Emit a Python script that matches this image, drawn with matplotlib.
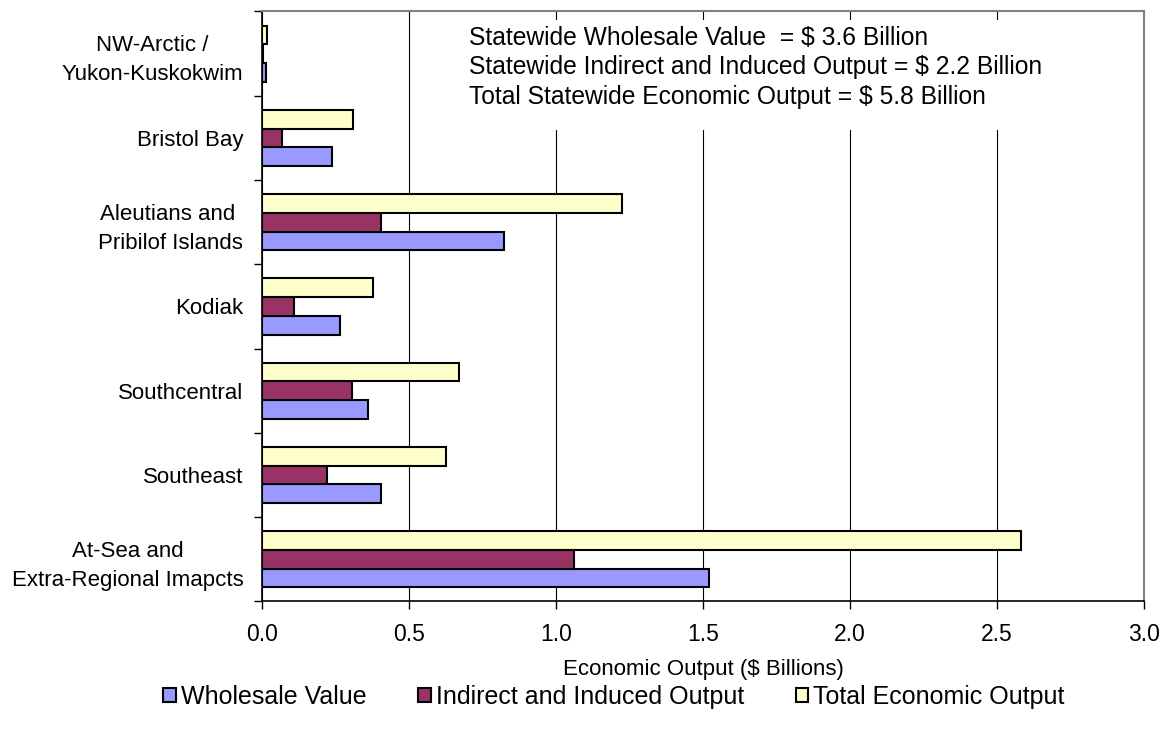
import numpy as np
import matplotlib
matplotlib.use("Agg")
import matplotlib.pyplot as plt
from matplotlib.ticker import FixedLocator

plt.rcParams['font.family'] = ['Liberation Sans', 'DejaVu Sans']

regions = ["NW-Arctic /\nYukon-Kuskokwim", "Bristol Bay", "Aleutians and \nPribilof Islands",
           "Kodiak", "Southcentral", "Southeast", "At-Sea and\nExtra-Regional Imapcts"]
wholesale = [0.013, 0.238, 0.823, 0.265, 0.361, 0.405, 1.520]
indirect = [0.004, 0.068, 0.405, 0.109, 0.306, 0.221, 1.061]
total = [0.017, 0.310, 1.224, 0.378, 0.670, 0.626, 2.582]

series_names = ["Wholesale Value", "Indirect and Induced Output", "Total Economic Output"]
colors = ["#9999FF", "#993366", "#FFFFCC"]

summary = ("Statewide Wholesale Value  = \\$ 3.6 Billion\n"
           "Statewide Indirect and Induced Output = \\$ 2.2 Billion\n"
           "Total Statewide Economic Output = \\$ 5.8 Billion")

fig = plt.figure(figsize=(11.64, 7.33), dpi=100)
ax = fig.add_axes([0.2251, 0.1794, 0.7577, 0.805])

n = len(regions)
y = np.arange(n)[::-1]  # first region at top
h = 0.222

for vals, off, c, name in zip([wholesale, indirect, total], [-h, 0, h], colors, series_names):
    ax.barh(y + off, vals, height=h, color=c, edgecolor='black', linewidth=1.5, label=name, zorder=3)

ax.set_xlim(0, 3.0)
ax.set_ylim(-0.5, n - 0.5)
ax.set_xticks(np.arange(0, 3.01, 0.5))
ax.set_xticklabels([f"{v:.1f}" for v in np.arange(0, 3.01, 0.5)], fontsize=16.5)
ax.tick_params(axis='x', direction='out', length=6, width=1, pad=9.4)
ax.set_yticks(y)
ax.set_yticklabels(regions, fontsize=16, multialignment='center', linespacing=1.5)
ax.tick_params(axis='y', which='major', length=0, pad=13.5)
ax.yaxis.set_minor_locator(FixedLocator(np.arange(-0.5, n, 1.0)))
ax.tick_params(axis='y', which='minor', direction='out', length=6, width=1)

ax.grid(axis='x', color='black', linewidth=0.8, zorder=0)
ax.set_axisbelow(True)
for s in ['top', 'right']:
    ax.spines[s].set_color('#808080')
    ax.spines[s].set_linewidth(1.5)
for s in ['left', 'bottom']:
    ax.spines[s].set_color('black')
    ax.spines[s].set_linewidth(1.2)

ax.set_xlabel("Economic Output (\\$ Billions)", fontsize=16, va='center')
ax.xaxis.set_label_coords(0.5, -0.1144)

# white box behind the summary text
ax.add_patch(plt.Rectangle((0.213, 0.799), 0.786, 0.1866, transform=ax.transAxes,
                           facecolor='white', edgecolor='none', zorder=2))
ax.text(0.2347, 0.9755, summary, transform=ax.transAxes, fontsize=17.7, va='top', ha='left',
        linespacing=1.29, zorder=4)

ax.legend(loc='center', bbox_to_anchor=(0.399, -0.162), ncol=3, frameon=False,
          fontsize=18, handlelength=0.5, handleheight=0.5, handletextpad=0.2, columnspacing=2.08)

fig.savefig("out.png", dpi=100)
